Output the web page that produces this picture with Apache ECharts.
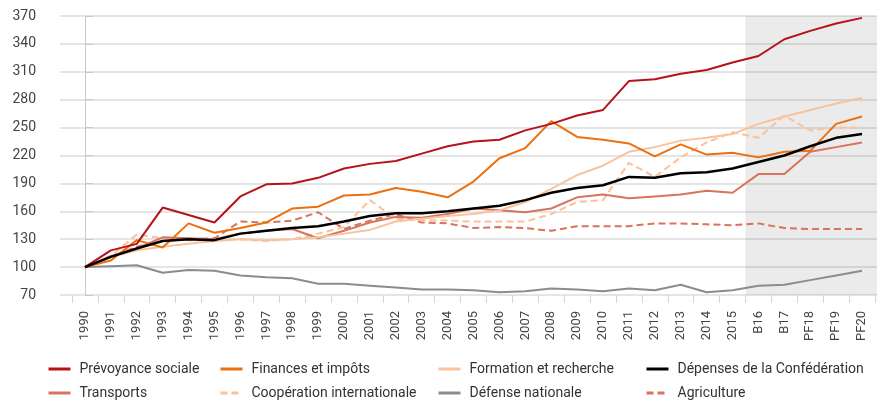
<!DOCTYPE html>
<html>
<head>
<meta charset="utf-8">
<script src="https://cdn.jsdelivr.net/npm/echarts@6/dist/echarts.min.js"></script>
<style>
html, body { margin:0; padding:0; background:#fff; }
#chart { width:883px; height:401px; }
</style>
</head>
<body>
<div id="chart"></div>
<script>
var categories = ['1990','1991','1992','1993','1994','1995','1996','1997','1998','1999',
    '2000','2001','2002','2003','2004','2005','2006','2007','2008','2009',
    '2010','2011','2012','2013','2014','2015','B16','B17','PF18','PF19','PF20'];

var prevoyance = [100,118,125,164,156,148,176,189,190,196,206,211,214,222,230,235,237,247,254,263,
    269,300,302,308,312,320,327,345,354,362,368];
var finances = [100,107,129,121,147,137,142,148,163,165,177,178,185,181,175,192,217,228,257,240,
    237,233,219,232,221,223,218,224,225,254,262];
var formation = [100,111,118,122,125,128,130,129,130,132,136,140,149,152,155,157,161,170,184,199,
    209,224,229,236,239,243,254,262,269,276,282];
var depenses = [100,111,120,128,130,129,136,139,142,144,149,155,158,158,160,163,166,172,180,185,
    188,197,196,201,202,206,213,220,230,239,243];
var transports = [100,112,120,132,131,130,136,139,141,131,139,148,154,153,157,163,161,159,163,175,
    178,174,176,178,182,180,200,200,224,229,234];
var cooperation = [100,112,135,131,129,129,130,128,130,136,143,172,152,150,150,149,149,149,157,170,
    172,212,197,218,234,245,239,263,247,250,250];
var defense = [100,101,102,94,97,96,91,89,88,82,82,80,78,76,76,75,73,74,77,76,
    74,77,75,81,73,75,80,81,86,91,96];
var agriculture = [100,111,122,128,130,131,149,148,150,159,141,150,157,148,147,142,143,142,139,144,
    144,144,147,147,146,145,147,142,141,141,141];

var yTicks = { min:70, max:370, step:30 } ;
// first projected year, shaded to the end of the axis
var shadeFrom = categories.indexOf('B16') - 0.5 ;
var bgMin = -0.964, bgMax = categories.length - 0.5 + 0.08 ;

var chart = echarts.init(document.getElementById('chart'));

function lineSeries(name, data, color, dashed, width){
    return {
        name:name,
        type:'line',
        xAxisIndex:1,
        yAxisIndex:1,
        data:data,
        symbol:'none',
        showSymbol:false,
        smooth:false,
        lineStyle:{ color:color, width:width || 2, type: dashed ? [7,4] : 'solid' },
        itemStyle:{ color:color }
    } ;
}

var legendBase = {
    orient:'vertical',
    top:362,
    itemWidth:22,
    itemHeight:14,
    itemGap:10,
    padding:0,
    itemStyle:{ opacity:0 },
    lineStyle:{ width:3 },
    textStyle:{ fontFamily:'Roboto', fontSize:14, color:'#333', padding:[0,0,0,4] }
} ;
function legendCol(left, names){
    return Object.assign({}, legendBase, { left:left, data:names }) ;
}

var option = {
    animation:false,
    backgroundColor:'#fff',
    grid:[
        { left:60, right:6, top:16, bottom:106 },
        { left:72, right:8, top:16, bottom:106 }
    ],
    legend:[
        legendCol(47, ['Prévoyance sociale','Transports']),
        legendCol(219, ['Finances et impôts','Coopération internationale']),
        legendCol(437, ['Formation et recherche','Défense nationale']),
        legendCol(645, ['Dépenses de la Confédération','Agriculture'])
    ],
    xAxis:[
        { gridIndex:0, type:'value', min:bgMin, max:bgMax, show:false },
        {
            gridIndex:1, type:'category', data:categories, boundaryGap:true,
            axisLine:{ show:false },
            axisTick:{ show:true, interval:0, length:8, lineStyle:{ color:'#d6d6d6', width:1 } },
            axisLabel:{ interval:0, rotate:90, margin:16, fontFamily:'Roboto', fontSize:13, color:'#444' }
        }
    ],
    yAxis:[
        {
            gridIndex:0, type:'value', min:yTicks.min, max:yTicks.max, interval:yTicks.step,
            offset:14,
            axisLine:{ show:true, lineStyle:{ color:'#c8c8c8', width:1 } },
            axisTick:{ show:true, inside:true, length:8, lineStyle:{ color:'#c8c8c8' } },
            axisLabel:{ margin:10, fontFamily:'Roboto', fontSize:14, color:'#444' },
            splitLine:{ show:true, lineStyle:{ color:'#dcdcdc', width:1.5 } }
        },
        { gridIndex:1, type:'value', min:yTicks.min, max:yTicks.max, show:false }
    ],
    series:[
        {
            type:'line', xAxisIndex:0, yAxisIndex:0, data:[], silent:true,
            markArea:{
                silent:true,
                itemStyle:{ color:'rgba(0,0,0,0.08)' },
                data:[[ { xAxis:shadeFrom, yAxis:yTicks.min }, { xAxis:bgMax, yAxis:yTicks.max } ]]
            }
        },
        lineSeries('Défense nationale', defense, '#8c8c8c', false),
        lineSeries('Agriculture', agriculture, '#d9735c', true),
        lineSeries('Coopération internationale', cooperation, '#f8c39c', true),
        lineSeries('Transports', transports, '#d9735c', false),
        lineSeries('Formation et recherche', formation, '#f8c39c', false),
        lineSeries('Finances et impôts', finances, '#ec7010', false),
        lineSeries('Prévoyance sociale', prevoyance, '#b5121b', false),
        lineSeries('Dépenses de la Confédération', depenses, '#000000', false, 2.5)
    ]
} ;

chart.setOption(option);
</script>
</body>
</html>
